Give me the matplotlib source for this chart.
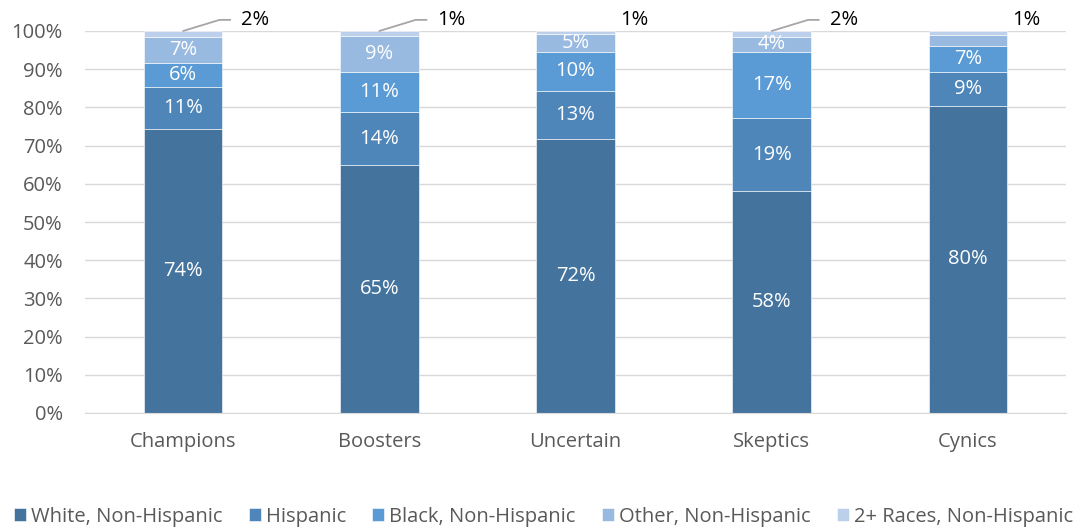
import numpy as np
import matplotlib.pyplot as plt

plt.rcParams['font.family'] = ['Open Sans', 'DejaVu Sans']

groups = ['Champions', 'Boosters', 'Uncertain', 'Skeptics', 'Cynics']
series = ['White, Non-Hispanic', 'Hispanic', 'Black, Non-Hispanic',
          'Other, Non-Hispanic', '2+ Races, Non-Hispanic']
white = [74.4, 64.9, 71.6, 58.1, 80.4]
hispanic = [11.0, 13.8, 12.7, 19.1, 8.9]
black = [6.2, 10.6, 10.2, 17.4, 6.8]
other = [6.8, 9.3, 4.8, 3.8, 2.9]
multi = [1.6, 1.4, 0.7, 1.6, 1.0]
colors = ['#44749e', '#4e86ba', '#5a9ad5', '#98b9e0', '#bcd0eb']

# which in-bar labels to show (Cynics "Other" had none)
show_other = [True, True, True, True, False]

data = [white, hispanic, black, other, multi]
x = np.arange(len(groups))

fig = plt.figure(figsize=(10.87, 5.29), dpi=100)
ax = fig.add_axes([85/1087, 1-413/529, (1066-85)/1087, (413-31)/529])

bottom = np.zeros(len(groups))
for k, (vals, c, name) in enumerate(zip(data, colors, series)):
    vals = np.array(vals)
    ax.bar(x, vals, 0.4, bottom=bottom, color=c, label=name,
           edgecolor='white', linewidth=0.4, zorder=2)
    if k < 4:
        for i, v in enumerate(vals):
            if k == 3 and not show_other[i]:
                continue
            ax.text(x[i], bottom[i] + v/2, f'{round(v)}%', ha='center',
                    va='center', color='white', fontsize=14.5)
    bottom += vals

# labels for 2+ races above the bars
leader = [True, True, False, True, False]
for i, v in enumerate(multi):
    if leader[i]:
        ax.annotate(f'{round(v)}%', xy=(x[i], 100), xytext=(42, 8),
                    textcoords='offset points', ha='left', va='center',
                    fontsize=14.5, color='black',
                    arrowprops=dict(arrowstyle='-', color='#a6a6a6', lw=1.3,
                                    relpos=(0, 0.5), shrinkA=6, shrinkB=0,
                                    connectionstyle='angle,angleA=0,angleB=17,rad=0'))
    else:
        ax.annotate(f'{round(v)}%', xy=(x[i], 100), xytext=(32, 8),
                    textcoords='offset points', ha='left', va='center',
                    fontsize=14.5, color='black')

ax.set_xlim(-0.5, len(groups) - 0.5)
ax.set_ylim(0, 100)
ax.set_yticks(np.arange(0, 101, 10))
ax.set_yticklabels([f'{t}%' for t in range(0, 101, 10)])
ax.set_xticks(x)
ax.set_xticklabels(groups)
ax.tick_params(axis='both', length=0, labelsize=14.5, colors='#595959')
ax.tick_params(axis='y', pad=16)
ax.tick_params(axis='x', pad=14)
ax.grid(axis='y', color='#d9d9d9', lw=1, zorder=0)
for s in ['top', 'right', 'left']:
    ax.spines[s].set_visible(False)
ax.spines['bottom'].set_color('#d9d9d9')

fig.legend(loc='lower center', bbox_to_anchor=(0.5, -0.03), ncol=5,
           frameon=False, fontsize=14.5, handlelength=0.6, handleheight=0.6,
           handletextpad=0.25, columnspacing=1.3, labelcolor='#595959')

fig.savefig('out.png', dpi=100)
